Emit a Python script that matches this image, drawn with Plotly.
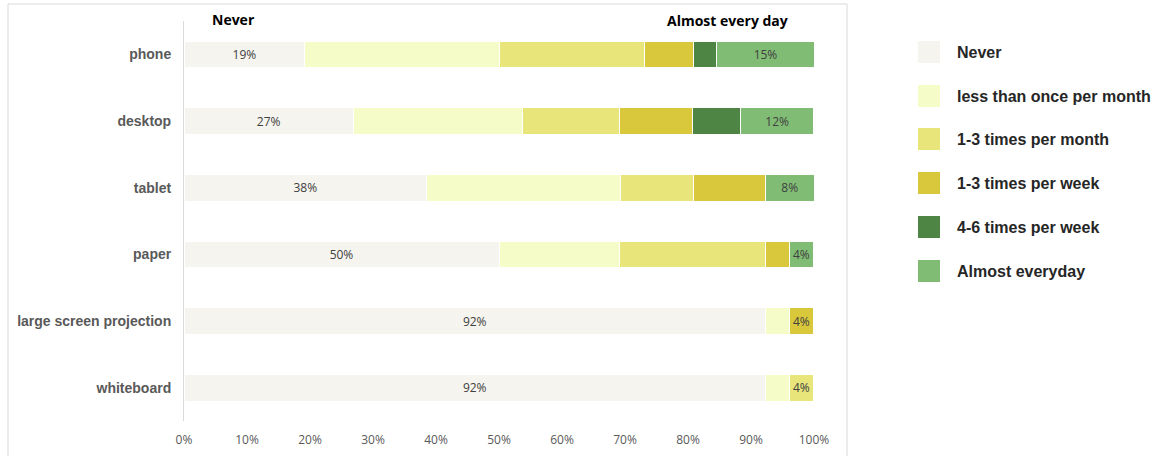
import plotly.graph_objects as go

# Devices, top to bottom
devices = ["phone", "desktop", "tablet", "paper", "large screen projection", "whiteboard"]

# Frequency categories, in stacking order
series_names = [
    "Never",
    "less than once per month",
    "1-3 times per month",
    "1-3 times per week",
    "4-6 times per week",
    "Almost everyday",
]
series_colors = ["#F6F4EE", "#F6FCC8", "#E8E57A", "#D9C83B", "#4E8444", "#80BC74"]

# Share of respondents (%) per device for each frequency
never = [19.2, 26.9, 38.5, 50.0, 92.3, 92.3]
less_than_monthly = [30.8, 26.9, 30.8, 19.2, 3.8, 3.8]
monthly_1_3 = [23.1, 15.4, 11.5, 23.1, 0.0, 3.8]
weekly_1_3 = [7.7, 11.5, 11.5, 3.8, 3.8, 0.0]
weekly_4_6 = [3.8, 7.7, 0.0, 0.0, 0.0, 0.0]
almost_every_day = [15.4, 11.5, 7.7, 3.8, 0.0, 0.0]

tick_vals = [0, 10, 20, 30, 40, 50, 60, 70, 80, 90, 100]
tick_text = ["0%", "10%", "20%", "30%", "40%", "50%", "60%", "70%", "80%", "90%", "100%"]

series_values = [never, less_than_monthly, monthly_1_3, weekly_1_3, weekly_4_6, almost_every_day]

# Label only the first segment and the last non-empty segment of each bar
labels = [["" for _ in devices] for _ in series_values]
for d in range(len(devices)):
    labels[0][d] = f"{round(never[d])}%"
    last = max(i for i, s in enumerate(series_values) if s[d] > 0)
    labels[last][d] = f"{round(series_values[last][d])}%"

FONT_NUM = "Liberation Sans Narrow, Open Sans, Arial"
FONT_LBL = "Liberation Sans, Arial"

fig = go.Figure()
for name, vals, color, txt in zip(series_names, series_values, series_colors, labels):
    fig.add_trace(go.Bar(
        y=devices, x=vals, name=name, orientation="h",
        marker=dict(color=color, line=dict(color="white", width=1)),
        text=txt, textposition="inside", insidetextanchor="middle",
        textfont=dict(family=FONT_NUM, size=12, color="#404040"),
        constraintext="none", showlegend=False, hoverinfo="x+name",
    ))

# Plot area geometry in pixels
W, H = 1162, 456
L, R, T, B = 184, 814, 21, 421


def px(xp):
    return (xp - L) / (R - L)


def py(yp):
    return (B - yp) / (B - T)


shapes = [
    dict(type="rect", xref="paper", yref="paper",
         x0=px(8), x1=px(847), y0=py(458), y1=py(4),
         line=dict(color="#D9D9D9", width=1), fillcolor="rgba(0,0,0,0)", layer="below"),
]
annotations = [
    dict(text="<b>Never</b>", xref="x", yref="paper", x=7.8, y=py(19),
         yanchor="middle", showarrow=False,
         font=dict(family=FONT_NUM, size=14, color="#000000")),
    dict(text="<b>Almost every day</b>", xref="x", yref="paper", x=86.3, y=py(20),
         yanchor="middle", showarrow=False,
         font=dict(family=FONT_NUM, size=14, color="#000000")),
]

# Legend with square swatches
legend_rows = [52, 96, 139, 183, 227, 271]
for name, color, yc in zip(series_names, series_colors, legend_rows):
    shapes.append(dict(type="rect", xref="paper", yref="paper",
                       x0=px(918), x1=px(940), y0=py(yc + 11), y1=py(yc - 11),
                       line=dict(width=0), fillcolor=color))
    annotations.append(dict(text=f"<b>{name}</b>", xref="paper", yref="paper",
                            x=px(955), y=py(yc), xanchor="left", yanchor="middle",
                            showarrow=False,
                            font=dict(family=FONT_LBL, size=16, color="#262626")))

fig.update_layout(
    width=W, height=H, barmode="stack", bargap=0.6,
    margin=dict(l=L, r=W - R, t=T, b=H - B, pad=0, autoexpand=False),
    paper_bgcolor="white", plot_bgcolor="white",
    shapes=shapes, annotations=annotations, showlegend=False,
    uniformtext=dict(minsize=12, mode="show"),
    xaxis=dict(range=[0, 100], tickvals=tick_vals, ticktext=tick_text,
               showgrid=False, zeroline=False, showline=False, automargin=False,
               ticks="", ticklabelstandoff=10,
               tickfont=dict(family=FONT_NUM, size=12, color="#595959")),
    yaxis=dict(categoryorder="array", categoryarray=devices, autorange="reversed",
               showgrid=False, zeroline=False, showline=True, linecolor="#D9D9D9",
               linewidth=1, ticks="", ticklabelstandoff=9, automargin=False,
               tickfont=dict(family=FONT_LBL, size=14, color="#595959", weight="bold")),
)

fig.write_html("out.html")
